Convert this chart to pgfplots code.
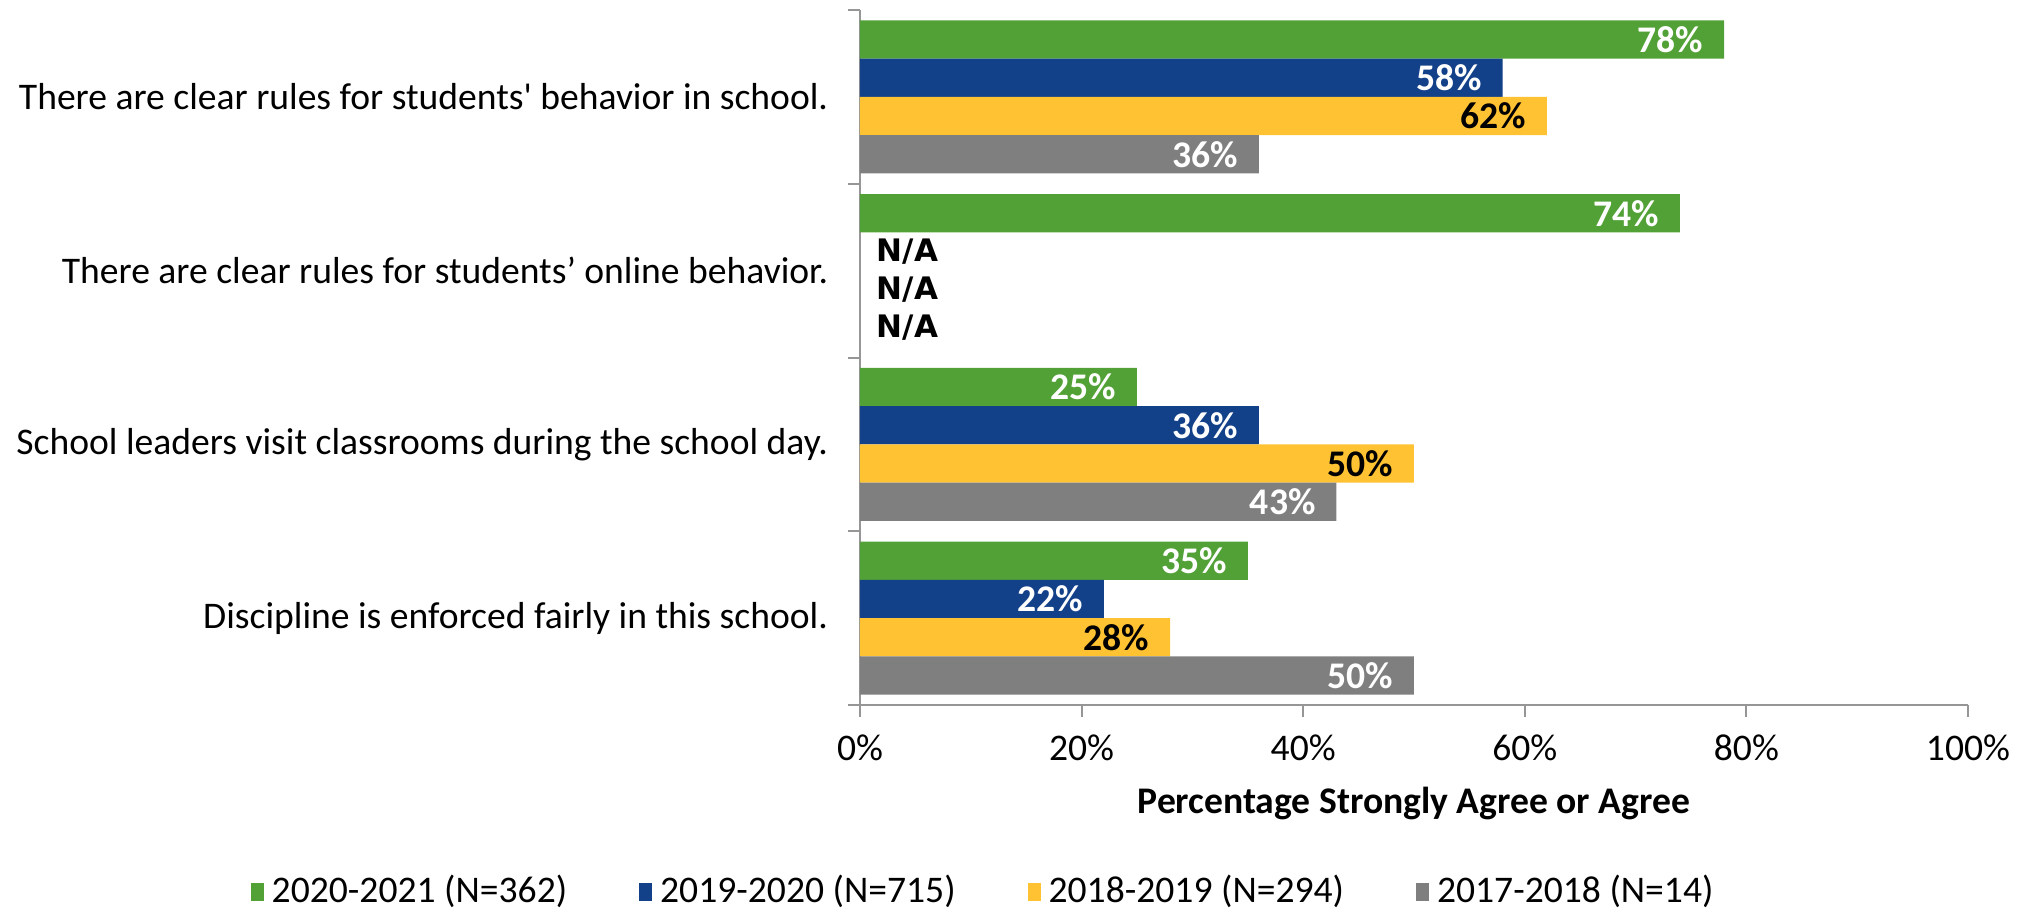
\documentclass[border=0pt]{standalone}
\usepackage{pgfplots}
\pgfplotsset{compat=1.18}
\usepackage{fontspec}
\setmainfont{Carlito}
\newfontfamily\nafont{DejaVu Sans}
\definecolor{cgreen}{RGB}{82,161,54}
\definecolor{cblue}{RGB}{19,65,137}
\definecolor{cyellow}{RGB}{255,194,50}
\definecolor{cgray}{RGB}{127,127,127}
\definecolor{axisgray}{RGB}{150,150,150}
\begin{document}
\fontsize{18.8}{22}\selectfont
\begin{tikzpicture}
\begin{axis}[
  xbar, scale only axis, width=554pt, height=347.5pt,
  xmin=0, xmax=100, ymin=-0.5, ymax=3.5,
  bar width=0.22,
  axis x line*=bottom, axis y line*=left,
  axis line style={draw=axisgray, line width=1pt},
  tick align=outside, major tick length=6pt,
  tick style={axisgray, line width=1pt},
  xtick={0,20,...,100}, xticklabels={0\%,20\%,40\%,60\%,80\%,100\%},
  xticklabel style={yshift=-2.5pt},
  ytick={-0.5,0.5,1.5,2.5,3.5}, yticklabels={},
  extra y ticks={0,1,2,3},
  extra y tick labels={Discipline is enforced fairly in this school.,
    School leaders visit classrooms during the school day.,
    There are clear rules for students’ online behavior.,
    There are clear rules for students\textquotesingle\ behavior in school.},
  extra y tick style={major tick length=0pt, yticklabel style={anchor=east, xshift=-9.5pt}},
  xlabel={\textbf{Percentage Strongly Agree or Agree}},
  xlabel style={at={(axis description cs:0.5,0)}, anchor=center, yshift=-49pt},
  /pgf/number format/assume math mode=true,
  nodes near coords={\textbf{\pgfmathprintnumber{\pgfplotspointmeta}\%}},
  every node near coord/.append style={anchor=east, xshift=-4pt, text=white},
  legend columns=4,
  legend style={draw=none, fill=none, at={(0.112,0)}, anchor=center, yshift=-93.5pt,
    /tikz/every even column/.append style={column sep=34pt}},
  legend image code/.code={\fill[#1] (0pt,-4.5pt) rectangle (6.5pt,4.5pt);},
  legend style={/tikz/every odd column/.append style={column sep=2pt}},
]
\addplot[fill=cgreen, draw=none, bar shift=0.33] coordinates {(78,3) (74,2) (25,1) (35,0)};
\addlegendentry{2020-2021 (N=362)}
\addplot[fill=cblue, draw=none, bar shift=0.11] coordinates {(58,3) (36,1) (22,0)};
\addlegendentry{2019-2020 (N=715)}
\addplot[fill=cyellow, draw=none, bar shift=-0.11,
  every node near coord/.append style={text=black}] coordinates {(62,3) (50,1) (28,0)};
\addlegendentry{2018-2019 (N=294)}
\addplot[fill=cgray, draw=none, bar shift=-0.33] coordinates {(36,3) (43,1) (50,0)};
\addlegendentry{2017-2018 (N=14)}
% N/A labels for series without data on the online behavior item
\addplot[forget plot, draw=none, fill=none, bar shift=0.11,
  nodes near coords={\nafont\bfseries\fontsize{15.5}{18}\selectfont N/A},
  every node near coord/.append style={anchor=west, xshift=6pt, text=black}] coordinates {(0,2)};
\addplot[forget plot, draw=none, fill=none, bar shift=-0.11,
  nodes near coords={\nafont\bfseries\fontsize{15.5}{18}\selectfont N/A},
  every node near coord/.append style={anchor=west, xshift=6pt, text=black}] coordinates {(0,2)};
\addplot[forget plot, draw=none, fill=none, bar shift=-0.33,
  nodes near coords={\nafont\bfseries\fontsize{15.5}{18}\selectfont N/A},
  every node near coord/.append style={anchor=west, xshift=6pt, text=black}] coordinates {(0,2)};
\end{axis}
\pgfresetboundingbox
\path[use as bounding box] ([shift={(-430pt,-102.5pt)}]current axis.south west)
  rectangle ([shift={(30pt,5pt)}]current axis.north east);
\end{tikzpicture}
\end{document}
